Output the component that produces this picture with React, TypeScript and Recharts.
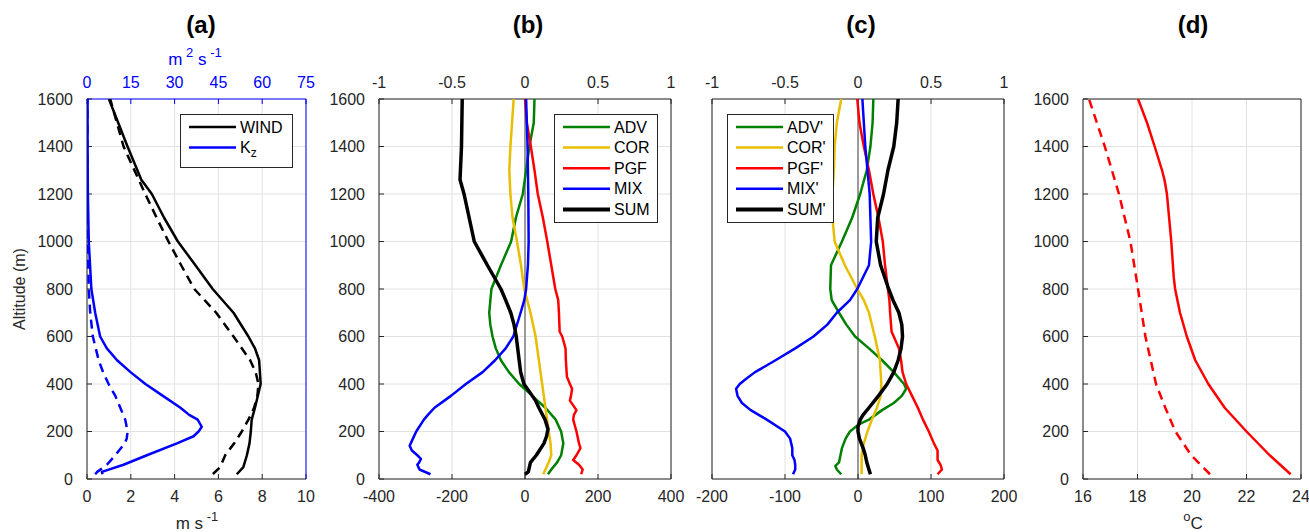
import React from 'react';
import { ComposedChart, Scatter, XAxis, YAxis, CartesianGrid, ReferenceLine } from 'recharts';

const FONT = '"Liberation Sans", Arial, Helvetica, sans-serif';
const AX = '#262626';
const GRID = '#e2e2e2';
const GREEN = '#008000';
const YELLOW = '#e8be00';
const RED = '#ff0000';
const BLUE = '#0000ff';
const BLACK = '#000000';

const altTicks = [0, 200, 400, 600, 800, 1000, 1200, 1400, 1600];

// ---------- Panel (a) ----------
const windSolidAlt = [20, 50, 100, 150, 200, 250, 300, 400, 500, 550, 600, 700, 800, 900, 1000, 1100, 1200, 1260, 1400, 1600];
const windSolid = [6.84, 7.14, 7.3, 7.42, 7.48, 7.52, 7.67, 7.93, 7.86, 7.67, 7.37, 6.69, 5.74, 4.95, 4.15, 3.52, 2.96, 2.48, 1.85, 1.0];
const windDashAlt = [21, 50, 100, 150, 200, 250, 300, 350, 400, 450, 500, 600, 700, 800, 900, 1000, 1100, 1200, 1400, 1600];
const windDash = [5.75, 6.08, 6.31, 6.72, 7.07, 7.37, 7.63, 7.78, 7.83, 7.7, 7.45, 6.69, 5.9, 4.9, 4.3, 3.72, 3.18, 2.66, 1.67, 1.06];
const kzSolidAlt = [20, 30, 60, 100, 150, 180, 200, 220, 250, 270, 300, 350, 400, 450, 500, 550, 600, 700, 800, 1000, 1200, 1400, 1600];
const kzSolid = [5.3, 5.1, 12.5, 20.5, 30.8, 36.5, 38.2, 39.3, 37.9, 35, 32, 26, 20, 14.9, 10.3, 6.8, 4.5, 2.8, 1.5, 0.6, 0.3, 0.2, 0.2];
const kzDashAlt = [20, 30, 60, 100, 150, 170, 200, 250, 300, 350, 400, 450, 500, 600, 700, 800, 1000, 1200, 1600];
const kzDash = [2.8, 3.5, 6.8, 9.7, 12.9, 13.6, 13.9, 13.1, 11.4, 9.7, 7.4, 5.5, 4.0, 2.0, 1.1, 0.6, 0.3, 0.2, 0.1];

// ---------- Panel (b) ----------
const advBAlt = [20, 40, 70, 100, 150, 200, 250, 300, 330, 370, 400, 450, 500, 550, 600, 650, 700, 800, 900, 1000, 1100, 1200, 1300, 1400, 1500, 1600];
const advB = [63, 72, 88, 99, 105, 99, 84, 56, 34, 6, -16, -44, -66, -80, -89, -95, -98, -92, -66, -38, -25, -6, 3, 12, 24, 26];
const corBAlt = [20, 40, 70, 100, 150, 200, 300, 400, 500, 600, 700, 753, 800, 900, 1000, 1100, 1200, 1300, 1400, 1600];
const corB = [50, 56, 65, 72, 70, 65, 56, 47, 38, 29, 15, 6, -2, -11, -22, -34, -40, -43, -40, -31];
const pgfBAlt = [20, 40, 60, 80, 100, 130, 150, 200, 250, 270, 290, 310, 330, 350, 380, 400, 430, 450, 500, 550, 600, 620, 700, 753, 800, 900, 1000, 1100, 1200, 1300, 1400, 1500, 1600];
const pgfB = [154, 158, 148, 132, 141, 152, 148, 141, 132, 134, 141, 132, 123, 126, 129, 123, 115, 114, 112, 111, 102, 95, 93, 91, 83, 72, 61, 49, 35, 26, 16, 5, 0];
const mixBAlt = [20, 40, 60, 70, 85, 100, 120, 140, 170, 200, 250, 270, 300, 350, 400, 450, 500, 550, 600, 700, 753, 800, 900, 1000, 1200, 1400, 1600];
const mixB = [-259, -289, -295, -290, -285, -295, -310, -316, -307, -298, -277, -266, -248, -203, -162, -116, -82, -53, -32, -12, -2, 3, 8, 10, 9, 7, 3];
const sumBAlt = [20, 30, 50, 70, 100, 150, 180, 210, 250, 300, 330, 370, 400, 450, 500, 600, 650, 700, 753, 800, 900, 1000, 1100, 1200, 1260, 1400, 1600];
const sumB = [0, 9, 12, 15, 31, 52, 59, 63, 55, 38, 29, 11, -3, -12, -16, -24, -30, -39, -53, -66, -103, -139, -153, -167, -178, -174, -172];

// ---------- Panel (c) ----------
const advCAlt = [20, 40, 55, 70, 100, 130, 170, 200, 230, 250, 290, 320, 350, 380, 400, 450, 500, 550, 600, 650, 700, 753, 800, 900, 1000, 1100, 1200, 1300, 1400, 1500, 1600];
const advC = [-23, -29, -31, -26, -24, -22, -17, -11, 1, 15, 33, 49, 60, 66, 63, 49, 33, 15, -4, -16, -26, -36, -38, -37, -22, -8, 3, 12, 17, 20, 21];
const corCAlt = [20, 50, 100, 150, 200, 250, 300, 350, 400, 500, 600, 700, 753, 800, 900, 1000, 1100, 1200, 1300, 1400, 1500, 1600];
const corC = [5, 5, 5, 8, 13, 19, 26, 31, 32, 30, 23, 15, 8, -1, -18, -32, -35, -35, -33, -32, -29, -23];
const pgfCAlt = [20, 40, 60, 80, 100, 120, 150, 200, 250, 300, 350, 400, 450, 500, 550, 600, 620, 700, 753, 800, 900, 1000, 1100, 1200, 1300, 1400, 1500, 1600];
const pgfC = [109, 115, 113, 109, 109, 109, 104, 97, 89, 82, 74, 66, 61, 59, 56, 49, 46, 44, 43, 41, 37, 34, 28, 21, 15, 8, 2, -1];
const mixCAlt = [20, 40, 60, 80, 100, 130, 170, 200, 250, 290, 320, 350, 380, 400, 420, 450, 500, 550, 600, 650, 700, 753, 800, 900, 1000, 1100, 1200, 1300, 1400, 1500, 1600];
const mixC = [-89, -86, -86, -87, -90, -90, -93, -100, -125, -147, -159, -165, -167, -162, -154, -141, -113, -86, -61, -42, -29, -11, -1, 15, 18, 17, 16, 13, 10, 8, 6];
const sumCAlt = [20, 40, 70, 100, 130, 170, 200, 220, 250, 270, 300, 350, 400, 450, 500, 550, 600, 650, 700, 753, 800, 900, 1000, 1100, 1200, 1300, 1400, 1500, 1600];
const sumC = [17, 15, 12, 10, 7, 2, 0, 0, 3, 7, 15, 28, 40, 49, 55, 59, 61, 60, 56, 48, 42, 31, 25, 27, 35, 41, 49, 53, 55];

// ---------- Panel (d) ----------
const tSolidAlt = [20, 100, 200, 300, 400, 500, 600, 700, 800, 850, 900, 1000, 1100, 1200, 1260, 1300, 1400, 1500, 1600];
const tSolid = [23.62, 22.85, 22.0, 21.2, 20.6, 20.12, 19.81, 19.56, 19.38, 19.33, 19.3, 19.24, 19.16, 19.08, 18.99, 18.9, 18.63, 18.35, 18.02];
const tDashAlt = [20, 100, 200, 300, 400, 600, 800, 1000, 1200, 1400, 1600];
const tDash = [20.66, 19.97, 19.39, 19.02, 18.68, 18.29, 18.02, 17.74, 17.32, 16.8, 16.22];

// axis ticks
const windTicks = [0, 2, 4, 6, 8, 10];
const kzTicks = [0, 15, 30, 45, 60, 75];
const bTicks = [-400, -200, 0, 200, 400];
const cTicks = [-200, -100, 0, 100, 200];
const normTicks = [-1, -0.5, 0, 0.5, 1];
const tempTicks = [16, 18, 20, 22, 24];

type Series = { alt: number[]; val: number[]; color: string; w: number; dash?: string; top?: boolean };

const toPts = (alt: number[], val: number[]) => alt.map((a, i) => ({ x: val[i], y: a }));

const tickStyle = (c: string) => ({ fill: c, fontSize: 16, fontFamily: FONT });

function Panel(p: {
  left: number; width: number; yw: number; ml: number; mr: number;
  xDomain: number[]; xTicks: number[]; topDomain: number[]; topTicks: number[];
  showY: boolean; showTop: boolean; topColor: string; rightColor: string;
  series: Series[]; zero?: boolean;
}) {
  return (
    <div style={{ position: 'absolute', left: p.left, top: 0 }}>
      <ComposedChart width={p.width} height={532} margin={{ top: 69, bottom: 23, left: p.ml, right: p.mr }}>
        <CartesianGrid stroke={GRID} xAxisId={0} yAxisId={0} />
        <XAxis xAxisId={0} type="number" dataKey="x" domain={p.xDomain} ticks={p.xTicks} allowDataOverflow interval={0}
          orientation="bottom" height={30} stroke={AX} tick={tickStyle(AX)} tickSize={-5} tickMargin={17} />
        <XAxis xAxisId="t" type="number" dataKey="x" domain={p.topDomain} ticks={p.topTicks} allowDataOverflow interval={0}
          orientation="top" height={30} stroke={p.topColor} tick={p.showTop ? tickStyle(p.topColor) : false} tickSize={-5} tickMargin={16} />
        <YAxis yAxisId={0} type="number" dataKey="y" domain={[0, 1600]} ticks={altTicks} allowDataOverflow interval={0}
          width={p.yw} stroke={AX} tick={p.showY ? tickStyle(AX) : false} tickSize={-5} tickMargin={19} />
        <YAxis yAxisId="r" orientation="right" type="number" dataKey="y" domain={[0, 1600]} ticks={altTicks} allowDataOverflow interval={0}
          width={1} stroke={p.rightColor} tick={false} tickSize={-5} />
        {p.zero && <ReferenceLine x={0} xAxisId={0} yAxisId={0} stroke="#444" strokeWidth={1} />}
        {p.series.map((s, i) => (
          <Scatter key={i} data={toPts(s.alt, s.val)} xAxisId={s.top ? 't' : 0} yAxisId={0} fill={s.color}
            line={{ stroke: s.color, strokeWidth: s.w, strokeDasharray: s.dash, strokeLinejoin: 'round' }}
            shape={() => <g />} isAnimationActive={false} />
        ))}
      </ComposedChart>
    </div>
  );
}

function LegendBox({ x, y, w, h, items }: { x: number; y: number; w: number; h: number; items: { label: React.ReactNode; color: string; sw: number }[] }) {
  return (
    <g transform={`translate(${x},${y})`}>
      <rect x={0.5} y={0.5} width={w} height={h} fill="#fff" stroke={AX} strokeWidth={1} />
      {items.map((it, i) => {
        const cy = 13 + i * 20.6;
        return (
          <g key={i}>
            <line x1={9} x2={56} y1={cy} y2={cy} stroke={it.color} strokeWidth={it.sw} />
            <text x={60} y={cy} dominantBaseline="central" fontSize={16} fontFamily={FONT} fill="#000">{it.label}</text>
          </g>
        );
      })}
    </g>
  );
}

export default function App() {
  const dash = '9 6';
  return (
    <div style={{ position: 'absolute', left: 0, top: 0, width: 1309, height: 532, background: '#fff', overflow: 'hidden' }}>
      <Panel left={0} width={325} yw={60} ml={27} mr={18} xDomain={[0, 10]} xTicks={windTicks} topDomain={[0, 75]} topTicks={kzTicks}
        showY showTop topColor={BLUE} rightColor={BLUE}
        series={[
          { alt: kzDashAlt, val: kzDash, color: BLUE, w: 2.5, dash, top: true },
          { alt: kzSolidAlt, val: kzSolid, color: BLUE, w: 2.5, top: true },
          { alt: windDashAlt, val: windDash, color: BLACK, w: 2.5, dash },
          { alt: windSolidAlt, val: windSolid, color: BLACK, w: 2.5 },
        ]} />
      <Panel left={325} width={365} yw={50} ml={4} mr={18} xDomain={[-400, 400]} xTicks={bTicks} topDomain={[-1, 1]} topTicks={normTicks}
        showY showTop topColor={AX} rightColor={AX} zero
        series={[
          { alt: advBAlt, val: advB, color: GREEN, w: 2.5 },
          { alt: corBAlt, val: corB, color: YELLOW, w: 2.5 },
          { alt: pgfBAlt, val: pgfB, color: RED, w: 2.5 },
          { alt: mixBAlt, val: mixB, color: BLUE, w: 2.5 },
          { alt: sumBAlt, val: sumB, color: BLACK, w: 3.5 },
        ]} />
      <Panel left={690} width={340} yw={10} ml={12} mr={25} xDomain={[-200, 200]} xTicks={cTicks} topDomain={[-1, 1]} topTicks={normTicks}
        showY={false} showTop topColor={AX} rightColor={AX} zero
        series={[
          { alt: advCAlt, val: advC, color: GREEN, w: 2.5 },
          { alt: corCAlt, val: corC, color: YELLOW, w: 2.5 },
          { alt: pgfCAlt, val: pgfC, color: RED, w: 2.5 },
          { alt: mixCAlt, val: mixC, color: BLUE, w: 2.5 },
          { alt: sumCAlt, val: sumC, color: BLACK, w: 3.5 },
        ]} />
      <Panel left={1030} width={279} yw={50} ml={3} mr={7} xDomain={[16, 24]} xTicks={tempTicks} topDomain={[16, 24]} topTicks={tempTicks}
        showY showTop={false} topColor={AX} rightColor={AX}
        series={[
          { alt: tDashAlt, val: tDash, color: RED, w: 2.5, dash },
          { alt: tSolidAlt, val: tSolid, color: RED, w: 2.5 },
        ]} />

      <svg width={1309} height={532} style={{ position: 'absolute', left: 0, top: 0, pointerEvents: 'none' }}>
        <g fontFamily={FONT} fontWeight="bold" fontSize={24} textAnchor="middle" fill="#000">
          <text x={201} y={33}>(a)</text>
          <text x={528} y={33}>(b)</text>
          <text x={861} y={33}>(c)</text>
          <text x={1193} y={33}>(d)</text>
        </g>
        <text x={195} y={65} textAnchor="middle" fontFamily={FONT} fontSize={17} fill={BLUE}>
          m<tspan dy={-8} fontSize={13}> 2</tspan><tspan dy={8}> s</tspan><tspan dy={-8} fontSize={13}> -1</tspan>
        </text>
        <text x={197} y={529} textAnchor="middle" fontFamily={FONT} fontSize={17} fill={AX}>
          m s<tspan dy={-8} fontSize={13}> -1</tspan>
        </text>
        <text x={1193} y={529} textAnchor="middle" fontFamily={FONT} fontSize={17} fill={AX}>
          <tspan dy={-8} fontSize={13}>o</tspan><tspan dy={8}>C</tspan>
        </text>
        <text transform="translate(19,289) rotate(-90)" textAnchor="middle" dominantBaseline="central" fontFamily={FONT} fontSize={16} fill={AX}>
          Altitude (m)
        </text>
        <LegendBox x={180} y={114} w={112} h={53} items={[
          { label: 'WIND', color: BLACK, sw: 2.5 },
          { label: <>K<tspan dy={5} fontSize={12}>z</tspan></>, color: BLUE, sw: 2.5 },
        ]} />
        <LegendBox x={554} y={114} w={103} h={108} items={[
          { label: 'ADV', color: GREEN, sw: 2.5 },
          { label: 'COR', color: YELLOW, sw: 2.5 },
          { label: 'PGF', color: RED, sw: 2.5 },
          { label: 'MIX', color: BLUE, sw: 2.5 },
          { label: 'SUM', color: BLACK, sw: 4 },
        ]} />
        <LegendBox x={727} y={114} w={106} h={108} items={[
          { label: "ADV'", color: GREEN, sw: 2.5 },
          { label: "COR'", color: YELLOW, sw: 2.5 },
          { label: "PGF'", color: RED, sw: 2.5 },
          { label: "MIX'", color: BLUE, sw: 2.5 },
          { label: "SUM'", color: BLACK, sw: 4 },
        ]} />
      </svg>
    </div>
  );
}
